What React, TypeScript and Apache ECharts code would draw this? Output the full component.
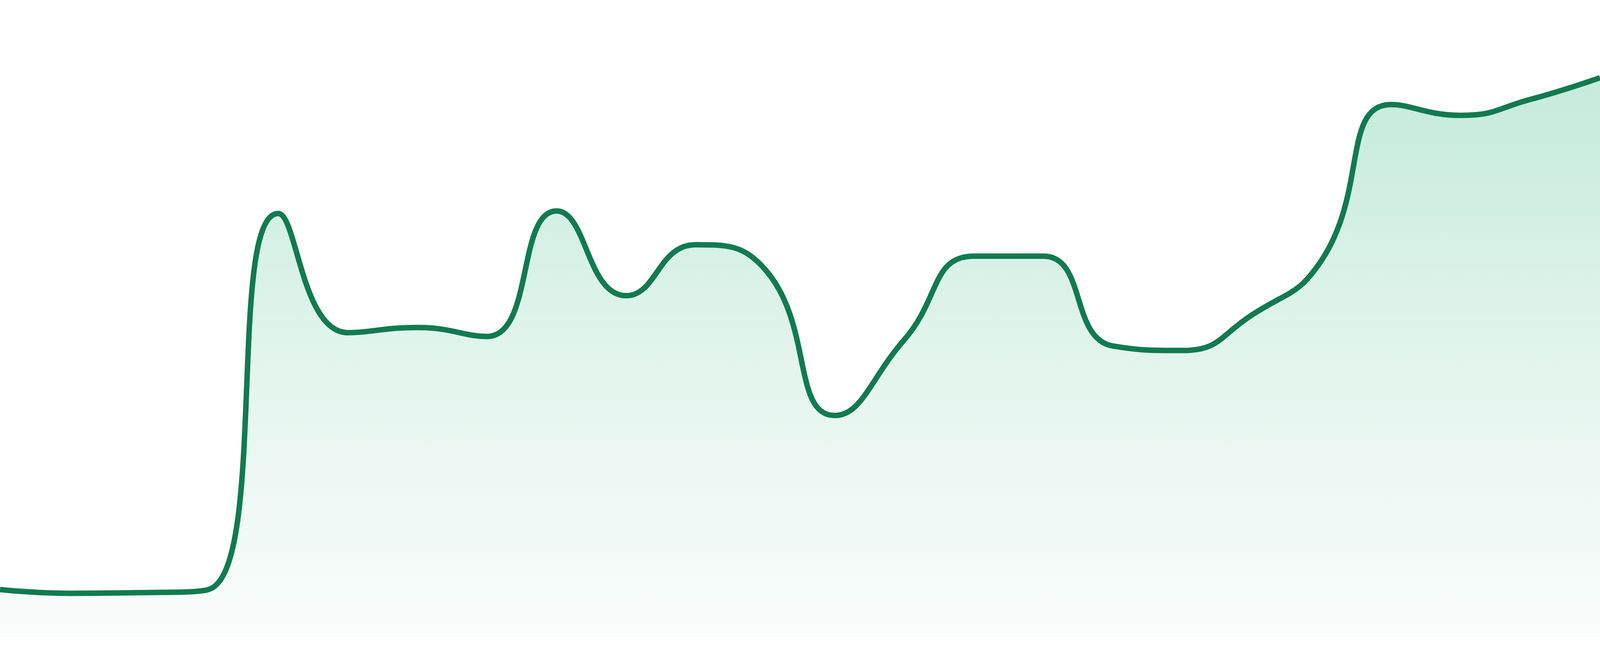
import { useEffect, useRef } from 'react'
import * as echarts from 'echarts'

// 24 evenly spaced samples, axes are hidden in the reference
const categories = [
  '1', '2', '3', '4', '5', '6', '7', '8', '9', '10', '11', '12',
  '13', '14', '15', '16', '17', '18', '19', '20', '21', '22', '23', '24'
]

const values = [
  7.5, 6.9, 7.0, 7.5, 66.5, 47.8, 48.6, 47.2, 66.9, 53.6, 61.6, 57.7,
  34.8, 46.7, 59.8, 59.8, 45.7, 45.0, 50.6, 59.2, 83.6, 81.9, 84.4, 87.8
]

const App = () => {
  const chartRef = useRef<HTMLDivElement>(null)

  useEffect(() => {
    if (!chartRef.current) return
    const chart = echarts.init(chartRef.current, undefined, { renderer: 'svg' })

    // the reference was drawn at 1680px tall; keep the stroke proportional
    const k = chartRef.current.clientHeight / 1680

    const option = {
      animation: false,
      grid: { left: 0, right: 0, top: 0, bottom: '2.857%' },
      xAxis: {
        type: 'category' as const,
        data: categories,
        boundaryGap: false,
        show: false
      },
      yAxis: {
        type: 'value' as const,
        min: 0,
        max: 100,
        show: false
      },
      series: [
        {
          type: 'line',
          data: values,
          smooth: true,
          symbol: 'none',
          lineStyle: { color: '#117a51', width: 14 * k },
          areaStyle: {
            color: {
              type: 'linear',
              x: 0,
              y: 0,
              x2: 0,
              y2: 1,
              colorStops: [
                { offset: 0, color: '#abe2cb' },
                { offset: 0.5, color: '#d6f0e5' },
                { offset: 1, color: '#f8fcfb' }
              ]
            }
          }
        }
      ]
    }

    chart.setOption(option)

    const handleResize = () => chart.resize()
    window.addEventListener('resize', handleResize)

    return () => {
      window.removeEventListener('resize', handleResize)
      chart.dispose()
    }
  }, [])

  return (
    <div
      ref={chartRef}
      style={{ position: 'fixed', left: 0, top: 0, width: '100vw', height: '100vh', background: '#ffffff' }}
    />
  )
}

export default App
